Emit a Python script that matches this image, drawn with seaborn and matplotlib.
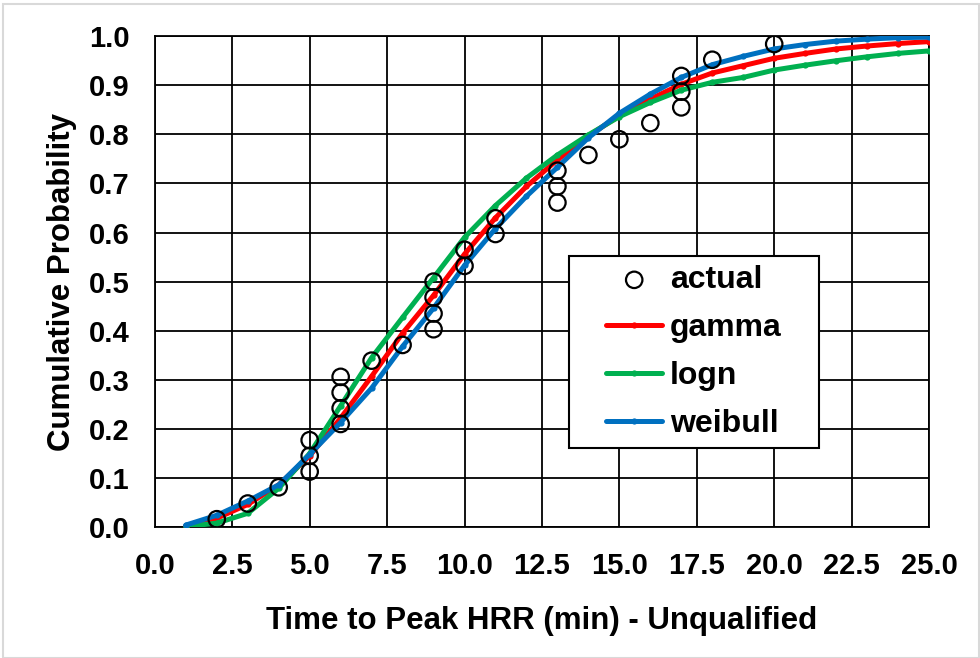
import matplotlib
matplotlib.use("Agg")
import matplotlib.pyplot as plt
import numpy as np
import pandas as pd
import seaborn as sns
from matplotlib.patches import Rectangle

# datos observados (tiempo, probabilidad acumulada)
actual_t = [2, 3, 4, 5, 5, 5, 6, 6, 6, 6, 7, 8, 9, 9, 9, 9, 10, 10, 11, 11,
            13, 13, 13, 14, 15, 16, 17, 17, 17, 18, 20]
actual_p = [0.016, 0.048, 0.081, 0.113, 0.145, 0.177, 0.210, 0.242, 0.274, 0.306,
            0.339, 0.371, 0.403, 0.435, 0.468, 0.500, 0.532, 0.565, 0.597, 0.629,
            0.661, 0.694, 0.726, 0.758, 0.790, 0.823, 0.855, 0.887, 0.919, 0.952, 0.984]

# curvas ajustadas
t_fit = list(range(1, 26))
gamma = [0.003, 0.018, 0.046, 0.086, 0.145, 0.222, 0.307, 0.395, 0.472, 0.556,
         0.630, 0.694, 0.748, 0.797, 0.838, 0.872, 0.902, 0.925, 0.940, 0.955,
         0.965, 0.974, 0.980, 0.985, 0.989]
logn = [0.001, 0.008, 0.028, 0.079, 0.150, 0.247, 0.345, 0.427, 0.508, 0.590,
        0.655, 0.711, 0.758, 0.799, 0.836, 0.865, 0.890, 0.906, 0.916, 0.931,
        0.941, 0.950, 0.958, 0.965, 0.970]
weibull = [0.004, 0.024, 0.053, 0.086, 0.148, 0.213, 0.283, 0.368, 0.446, 0.533,
           0.608, 0.674, 0.733, 0.793, 0.843, 0.882, 0.916, 0.942, 0.959, 0.974,
           0.983, 0.990, 0.994, 0.997, 0.998]

series = {"gamma": gamma, "logn": logn, "weibull": weibull}
colors = {"gamma": "#FF0000", "logn": "#00B050", "weibull": "#0070C0"}

fit_df = pd.concat([pd.DataFrame({"t": t_fit, "p": v, "dist": k}) for k, v in series.items()])
act_df = pd.DataFrame({"t": actual_t, "p": actual_p})

sns.set_style("white")
plt.rcParams['font.family'] = ['Liberation Sans', 'DejaVu Sans']
plt.rcParams['font.weight'] = 'bold'
plt.rcParams['text.color'] = 'black'
plt.rcParams['axes.labelcolor'] = 'black'
plt.rcParams['xtick.color'] = 'black'
plt.rcParams['ytick.color'] = 'black'

fig = plt.figure(figsize=(9.8, 6.58), dpi=100)
ax = fig.add_axes([0.158, 0.199, 0.790, 0.746])

sns.scatterplot(data=act_df, x="t", y="p", ax=ax, marker="o", s=140,
                facecolors="none", edgecolor="black", linewidth=1.6,
                label="actual", zorder=4)
sns.lineplot(data=fit_df, x="t", y="p", hue="dist", palette=colors, ax=ax,
             linewidth=3.6, marker="o", markersize=4.5, markeredgewidth=0,
             zorder=3)

ax.set_xlim(0, 25)
ax.set_ylim(0, 1.0)
ax.set_xticks(np.arange(0, 25.01, 2.5))
ax.set_yticks(np.arange(0, 1.001, 0.1))
ax.set_xticklabels([f"{v:.1f}" for v in np.arange(0, 25.01, 2.5)])
ax.set_yticklabels([f"{v:.1f}" for v in np.arange(0, 1.001, 0.1)])
ax.grid(True, color="black", linewidth=1.3)
ax.set_axisbelow(True)
for s in ax.spines.values():
    s.set_color("black")
    s.set_linewidth(1.3)
ax.tick_params(axis="both", length=0, labelsize=21, pad=18)

ax.set_xlabel("Time to Peak HRR (min) - Unqualified", fontsize=22.5, weight="bold", labelpad=19)
ax.set_ylabel("Cumulative Probability", fontsize=22.5, weight="bold", labelpad=9)

# recuadro de la leyenda
ax.add_patch(Rectangle((0.535, 0.161), 0.323, 0.391, transform=ax.transAxes,
                       facecolor="white", edgecolor="black", linewidth=1.5, zorder=5))

handles, labels = ax.get_legend_handles_labels()
leg = ax.legend(handles, labels, loc="center", bbox_to_anchor=(0.535, 0.161, 0.323, 0.391),
                fontsize=23, frameon=False, handlelength=1.75, labelspacing=0.56,
                handletextpad=0.25, borderpad=0.3)
leg.set_zorder(6)

fig.patches.append(Rectangle((0.003, 0.0), 0.996, 0.994, transform=fig.transFigure,
                             fill=False, edgecolor="#d9d9d9", linewidth=1.5))

plt.savefig("out.png", dpi=100)
